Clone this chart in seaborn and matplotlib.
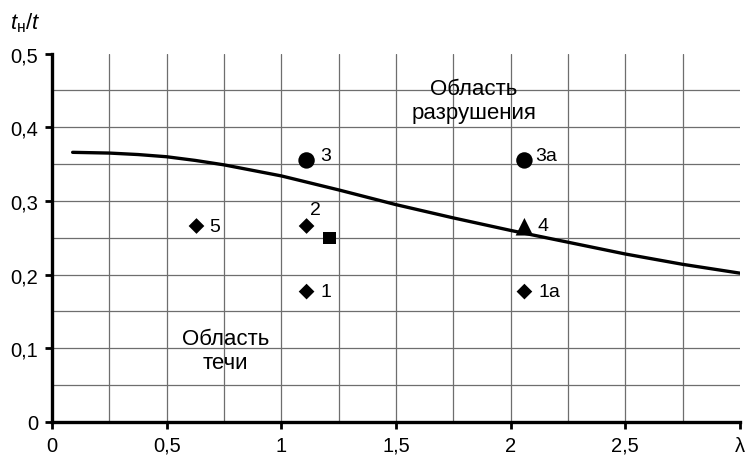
import matplotlib

matplotlib.use("Agg")
import matplotlib.pyplot as plt
import numpy as np
import pandas as pd
import seaborn as sns
from matplotlib.ticker import MultipleLocator

sns.set_theme(style="white")
plt.rcParams["font.family"] = ["Liberation Sans", "DejaVu Sans"]
plt.rcParams["mathtext.fontset"] = "custom"
plt.rcParams["mathtext.rm"] = "Liberation Sans"
plt.rcParams["mathtext.it"] = "Liberation Sans:italic"

# Boundary curve t_н/t(λ)
curve_lambda = [0.09, 0.25, 0.375, 0.5, 0.625, 0.75, 1.0, 1.25, 1.5, 1.75, 2.0,
                2.25, 2.5, 2.75, 3.0]
curve_ratio = [0.366, 0.365, 0.363, 0.360, 0.355, 0.349, 0.334, 0.315, 0.295,
               0.277, 0.260, 0.244, 0.228, 0.214, 0.202]

# Experimental points
diamond_lambda = [0.63, 1.11, 1.11, 2.06]
diamond_ratio = [0.266, 0.266, 0.177, 0.177]
diamond_labels = ["5", "2", "1", "1а"]

circle_lambda = [1.11, 2.06]
circle_ratio = [0.355, 0.355]
circle_labels = ["3", "3а"]

square_lambda = [1.21]
square_ratio = [0.250]

triangle_lambda = [2.06]
triangle_ratio = [0.265]
triangle_labels = ["4"]

x_tick_values = [0, 0.5, 1, 1.5, 2, 2.5, 3]
x_tick_labels = ["0", "0,5", "1", "1,5", "2", "2,5", "λ"]
y_tick_values = [0, 0.1, 0.2, 0.3, 0.4, 0.5]
y_tick_labels = ["0", "0,1", "0,2", "0,3", "0,4", "0,5"]

figure = plt.figure(figsize=(7.5, 4.6), dpi=100)
axis = figure.add_axes([52 / 750, 37 / 460, 688 / 750, 368.4 / 460])

curve = pd.DataFrame({"lam": curve_lambda, "ratio": curve_ratio})
sns.lineplot(data=curve, x="lam", y="ratio", color="black", linewidth=2.4, ax=axis)

sns.scatterplot(x=diamond_lambda, y=diamond_ratio, marker="D", s=64,
                color="black", edgecolor="none", ax=axis, zorder=5)
sns.scatterplot(x=circle_lambda, y=circle_ratio, marker="o", s=140,
                color="black", edgecolor="none", ax=axis, zorder=5)
sns.scatterplot(x=square_lambda, y=square_ratio, marker="s", s=78,
                color="black", edgecolor="none", ax=axis, zorder=5)
sns.scatterplot(x=triangle_lambda, y=triangle_ratio, marker="^", s=160,
                color="black", edgecolor="none", ax=axis, zorder=5)

# Point labels
label_offsets = {"5": (13, 0), "2": (3, 17), "1": (14, 0), "1а": (14, 0),
                 "3": (14, 5), "3а": (11, 5), "4": (13, 1)}
for xs, ys, labels in [(diamond_lambda, diamond_ratio, diamond_labels),
                       (circle_lambda, circle_ratio, circle_labels),
                       (triangle_lambda, triangle_ratio, triangle_labels)]:
    for x, y, text in zip(xs, ys, labels):
        axis.annotate(text, (x, y), xytext=label_offsets[text],
                      textcoords="offset pixels", ha="left", va="center",
                      fontsize=14, color="black")

axis.text(1.84, 0.436, "Область\nразрушения", ha="center", va="center",
          fontsize=16, linespacing=1.2, color="black")
axis.text(0.755, 0.097, "Область\nтечи", ha="center", va="center",
          fontsize=16, linespacing=1.2, color="black")

axis.set_xlim(0, 3)
axis.set_ylim(0, 0.5)
axis.set_xticks(x_tick_values)
axis.set_xticklabels(x_tick_labels)
axis.set_yticks(y_tick_values)
axis.set_yticklabels(y_tick_labels)
axis.xaxis.set_minor_locator(MultipleLocator(0.25))
axis.yaxis.set_minor_locator(MultipleLocator(0.05))
axis.set_xlabel("")
axis.set_ylabel("")

axis.grid(which="both", color="#6e6e6e", linewidth=0.9)
axis.xaxis.get_gridlines()[-1].set_visible(False)
axis.yaxis.get_gridlines()[-1].set_visible(False)

axis.tick_params(which="major", direction="out", length=5, width=2,
                 color="black", labelsize=14.5, labelcolor="black", pad=5,
                 left=True, bottom=True)
axis.tick_params(which="minor", length=0)

for side in ["top", "right"]:
    axis.spines[side].set_visible(False)
for side in ["left", "bottom"]:
    axis.spines[side].set_color("black")
    axis.spines[side].set_linewidth(2.4)

figure.text(10 / 750, 1 - 23 / 460, r"$t_{\mathrm{н}}/t$", fontsize=16,
            ha="left", va="center", color="black")

figure.savefig("out.png", dpi=100)
plt.close(figure)
